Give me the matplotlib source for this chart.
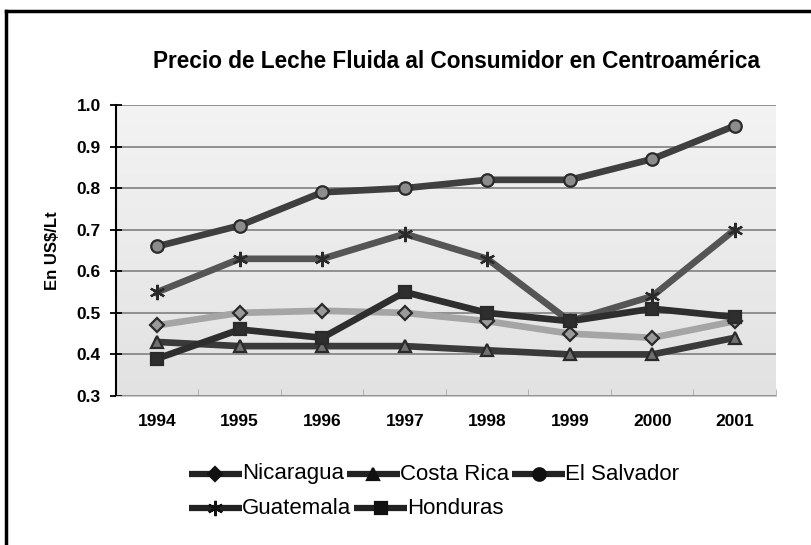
import matplotlib
matplotlib.use("Agg")
import matplotlib.pyplot as plt
import numpy as np
from matplotlib.lines import Line2D

years = ["1994", "1995", "1996", "1997", "1998", "1999", "2000", "2001"]
nicaragua = [0.47, 0.50, 0.505, 0.50, 0.48, 0.45, 0.44, 0.48]
costa_rica = [0.43, 0.42, 0.42, 0.42, 0.41, 0.40, 0.40, 0.44]
el_salvador = [0.66, 0.71, 0.79, 0.80, 0.82, 0.82, 0.87, 0.95]
guatemala = [0.55, 0.63, 0.63, 0.69, 0.63, 0.48, 0.54, 0.70]
honduras = [0.39, 0.46, 0.44, 0.55, 0.50, 0.48, 0.51, 0.49]
yticks = [0.3, 0.4, 0.5, 0.6, 0.7, 0.8, 0.9, 1.0]

plt.rcParams['font.family'] = ['Liberation Sans', 'DejaVu Sans']

W, H = 812, 545
fig = plt.figure(figsize=(W/100, H/100), dpi=100)
fig.patch.set_facecolor('white')

L, R, B, T = 116/W, 776/W, 1-396/H, 1-105/H
ax = fig.add_axes([L, B, R-L, T-B])

# gradient background
grad = np.linspace(0, 1, 256).reshape(-1, 1)
cmap = matplotlib.colors.LinearSegmentedColormap.from_list('g', ['#e2e2e2', '#f3f3f3'])
ax.imshow(grad, extent=[-0.5, 7.5, 0.3, 1.0], aspect='auto', cmap=cmap, origin='lower', zorder=0)

x = np.arange(len(years))
series = [
    ("Nicaragua", nicaragua, '#a5a5a5', 'D', '#9a9a9a', 7),
    ("Costa Rica", costa_rica, '#3a3a3a', '^', '#707070', 8),
    ("El Salvador", el_salvador, '#3f3f3f', 'o', '#8c8c8c', 9),
    ("Guatemala", guatemala, '#555555', (6, 2, 0), '#555555', 11),
    ("Honduras", honduras, '#2e2e2e', 's', '#2e2e2e', 9),
]
for name, vals, lc, mk, mfc, ms in series:
    ax.plot(x, vals, color=lc, lw=4.8, marker=mk, markersize=ms,
            markerfacecolor=mfc, markeredgecolor='#2a2a2a', markeredgewidth=1.6,
            label=name, zorder=3, solid_joinstyle='round')

ax.set_xlim(-0.5, 7.5)
ax.set_ylim(0.3, 1.0)
ax.set_yticks(yticks)
ax.set_yticklabels([f"{v:.1f}" for v in yticks], fontsize=12.5, fontweight='bold')
ax.set_xticks(x)
ax.set_xticklabels(years, fontsize=12.5, fontweight='bold')
ax.set_xticks(np.arange(-0.5, 8, 1), minor=True)
ax.tick_params(axis='x', which='major', length=0, pad=13)
ax.tick_params(axis='x', which='minor', length=5, color='#aaaaaa', direction='in')
ax.tick_params(axis='y', which='major', length=8, width=1.3, direction='inout', pad=7)
ax.grid(axis='y', color='#808080', lw=1.2, zorder=1)
for s in ['top', 'right']:
    ax.spines[s].set_visible(False)
ax.spines['bottom'].set_color('#cccccc')
ax.spines['left'].set_linewidth(1.5)

ax.set_ylabel("En US$/Lt", fontsize=12, fontweight='bold', labelpad=12)

fig.text(457/W, 1-62/H, "Precio de Leche Fluida al Consumidor en Centroamérica",
         ha='center', va='center', fontsize=16.3, fontweight='bold')

# manual flow legend (Excel style)
renderer = fig.canvas.get_renderer()
rows = [([0, 1, 2], 189, 474), ([3, 4], 189, 508)]
hlen = 53
for idxs, x0, yc in rows:
    cx = x0
    for i in idxs:
        name, vals, lc, mk, mfc, ms = series[i]
        yf = 1 - yc/H
        fig.add_artist(Line2D([cx/W, (cx+hlen)/W], [yf, yf], color='#222222', lw=4.5,
                              transform=fig.transFigure, solid_capstyle='butt'))
        fig.add_artist(Line2D([(cx+hlen/2)/W], [yf], marker=mk, markersize=ms,
                              markerfacecolor='#111111', markeredgecolor='#111111',
                              markeredgewidth=1.6, lw=0, transform=fig.transFigure))
        t = fig.text((cx+hlen)/W, yf, name, ha='left', va='center', fontsize=16)
        bb = t.get_window_extent(renderer=renderer)
        cx = cx + hlen + bb.width + 3

# outer border (top and left)
fig.add_artist(Line2D([5.5/W, 5.5/W], [0, 1-11/H], color='black', lw=2.5, transform=fig.transFigure))
fig.add_artist(Line2D([5.5/W, 1], [1-11/H, 1-11/H], color='black', lw=2.5, transform=fig.transFigure))

fig.savefig("out.png", dpi=100)
